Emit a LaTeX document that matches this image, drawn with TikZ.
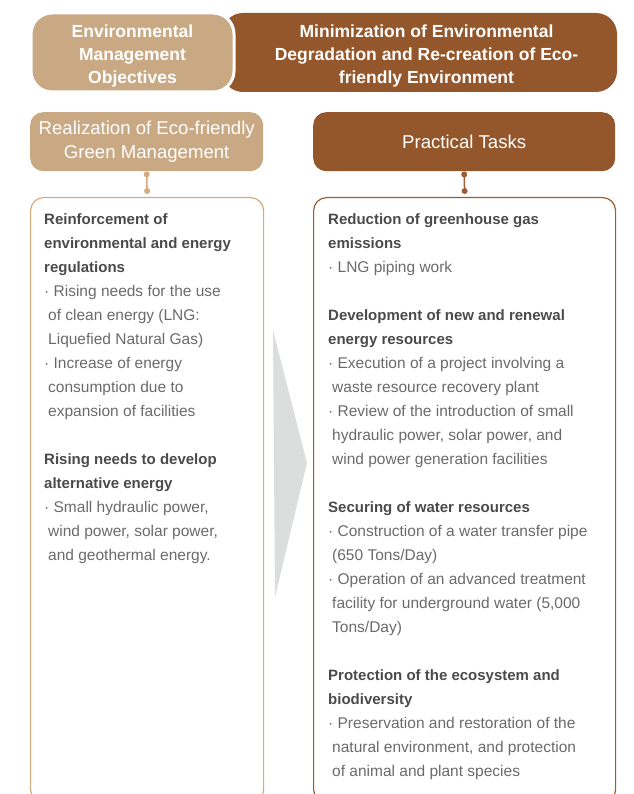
\documentclass[tikz,border=0pt]{standalone}
\usepackage{fontspec}
\setmainfont{Liberation Sans}
\usetikzlibrary{calc,positioning}
\definecolor{lightbrown}{HTML}{C9A983}
\definecolor{darkbrown}{HTML}{94562B}
\definecolor{lightline}{HTML}{D3AB7C}
\definecolor{darkline}{HTML}{9A5C33}
\definecolor{headgrey}{HTML}{4A4A4A}
\definecolor{textgrey}{HTML}{6A6A6A}
\definecolor{arrowgrey}{HTML}{DCDDDD}
\newcommand{\taskhead}[1]{{\fontsize{15}{24}\selectfont\bfseries\color{headgrey}#1}}

\begin{document}
\begin{tikzpicture}[x=1pt,y=-1pt]

\tikzset{objbox/.style={font=\bfseries\fontsize{17.5}{23}\selectfont,text=white,align=center,rounded corners=21pt,minimum height=79pt,inner sep=0pt},
headbox/.style={font=\fontsize{18.6}{24}\selectfont,text=white,align=center,rounded corners=13pt,minimum height=59pt,inner sep=0pt,anchor=north west},
bodybox/.style={rounded corners=13pt,line width=1.2pt,anchor=north west,minimum height=605pt,inner sep=0pt},
bodytext/.style={font=\fontsize{15.5}{24}\selectfont,text=textgrey,align=left,inner sep=0pt},
linkdot/.style={circle,inner sep=0pt,minimum size=6pt}}

\useasboundingbox (0,0) rectangle (633,794);
\clip (0,0) rectangle (633,794);

% Objectives banner
\node[objbox,fill=darkbrown,minimum width=395pt] (objR) at (419.5,52.5) {\rule{0pt}{20pt}\hspace*{14pt}Minimization of Environmental\\\hspace*{14pt}Degradation and Re-creation of Eco-\\\hspace*{14pt}friendly Environment};
\node[objbox,fill=lightbrown,draw=white,line width=3pt,minimum width=203pt] (objL) at (132.5,52.5) {\rule{0pt}{20pt}Environmental\\Management\\Objectives};

% Headers
\node[headbox,fill=lightbrown,minimum width=233pt] (hdrL) at (30,112) {Realization of Eco-friendly\\Green Management};
\node[headbox,fill=darkbrown,minimum width=302pt] (hdrR) at (313,112) {Practical Tasks};

% Body boxes
\node[bodybox,draw=lightline,minimum width=233pt] (bodyL) at (30,197) {};
\node[bodybox,draw=darkline,minimum width=302pt] (bodyR) at (313,197) {};

% Links between header and body
\node[linkdot,fill=lightline] (dotL1) at ($(hdrL.south)+(0,3)$) {};
\node[linkdot,fill=lightline] (dotL2) at ($(bodyL.north)+(0,-6)$) {};
\node[linkdot,fill=darkline] (dotR1) at ($(hdrR.south)+(0,3)$) {};
\node[linkdot,fill=darkline] (dotR2) at ($(bodyR.north)+(0,-6)$) {};
\draw[lightline,line width=1.5pt] (dotL1.center) -- (dotL2.center);
\draw[darkline,line width=1.5pt] (dotR1.center) -- (dotR2.center);

% Grey arrow
\fill[arrowgrey] (273,330) -- (307,463) -- (275,597) -- cycle;

% Text
\node[bodytext,below right=16pt and 14pt of bodyL.north west] (txtL) {%
\taskhead{Reinforcement of}\\
\taskhead{environmental and energy}\\
\taskhead{regulations}\\
· Rising needs for the use\\
\hspace*{4pt}of clean energy (LNG:\\
\hspace*{4pt}Liquefied Natural Gas)\\
· Increase of energy\\
\hspace*{4pt}consumption due to\\
\hspace*{4pt}expansion of facilities\\[24pt]
\taskhead{Rising needs to develop}\\
\taskhead{alternative energy}\\
· Small hydraulic power,\\
\hspace*{4pt}wind power, solar power,\\
\hspace*{4pt}and geothermal energy.};

\node[bodytext,below right=16pt and 15pt of bodyR.north west] (txtR) {%
\taskhead{Reduction of greenhouse gas}\\
\taskhead{emissions}\\
· LNG piping work\\[24pt]
\taskhead{Development of new and renewal}\\
\taskhead{energy resources}\\
· Execution of a project involving a\\
\hspace*{4pt}waste resource recovery plant\\
· Review of the introduction of small\\
\hspace*{4pt}hydraulic power, solar power, and\\
\hspace*{4pt}wind power generation facilities\\[24pt]
\taskhead{Securing of water resources}\\
· Construction of a water transfer pipe\\
\hspace*{4pt}(650 Tons/Day)\\
· Operation of an advanced treatment\\
\hspace*{4pt}facility for underground water (5,000\\
\hspace*{4pt}Tons/Day)\\[24pt]
\taskhead{Protection of the ecosystem and}\\
\taskhead{biodiversity}\\
· Preservation and restoration of the\\
\hspace*{4pt}natural environment, and protection\\
\hspace*{4pt}of animal and plant species};

\end{tikzpicture}
\end{document}
